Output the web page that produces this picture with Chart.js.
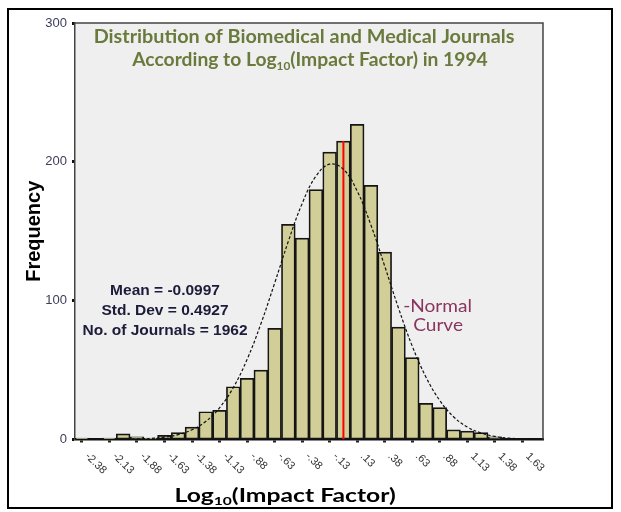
<!DOCTYPE html>
<html><head><meta charset="utf-8">
<script src="https://cdn.jsdelivr.net/npm/chart.js@4.4.1/dist/chart.umd.min.js"></script>
<style>html,body{margin:0;padding:0;background:#fff;}canvas{display:block;}</style>
</head><body>
<canvas id="c" width="621" height="512"></canvas>
<script>
// ---- data ----
const binCenters = [-2.375,-2.25,-2.125,-2,-1.875,-1.75,-1.625,-1.5,-1.375,-1.25,-1.125,-1,-0.875,-0.75,-0.625,-0.5,-0.375,-0.25,-0.125,0,0.125,0.25,0.375,0.5,0.625,0.75,0.875,1,1.125,1.25,1.375,1.5,1.625,1.75];
const frequencies = [1,0,1,4,2,1,3,5,9,20,21,38,44,50,80,155,145,180,207,215,227,183,135,81,59,26,23,7,6,5,2,0,0,0];
const curveX = [-2.375,-2.25,-2.125,-2,-1.875,-1.75,-1.625,-1.5,-1.375,-1.25,-1.125,-1,-0.875,-0.75,-0.625,-0.5,-0.375,-0.25,-0.125,0,0.125,0.25,0.375,0.5,0.625,0.75,0.875,1,1.125,1.25,1.375,1.5,1.625,1.75];
const curveY = [0,0,0,0.1,0.3,0.7,1.7,3.5,7,13,22.8,37.4,57.6,83.2,112.5,142.8,169.9,189.6,198.3,194.6,179,154.4,124.9,94.7,67.3,44.9,28.1,16.4,9,4.7,2.2,1,0.4,0.2];
const xTickValues = [-2.375,-2.125,-1.875,-1.625,-1.375,-1.125,-0.875,-0.625,-0.375,-0.125,0.125,0.375,0.625,0.875,1.125,1.375,1.625];
const xTickLabels = ["-2.38","-2.13","-1.88","-1.63","-1.38","-1.13","-.88","-.63","-.38","-.13",".13",".38",".63",".88","1.13","1.38","1.63"];
const yTickValues = [0,100,200,300];
const markerX = 0;
const statsLines = ["Mean = -0.0997","Std. Dev = 0.4927","No. of Journals = 1962"];
const statsY = [107.5,92.5,78];
const statsX = -1.62;
const titleLine1 = [["Distribution of Biomedical and Medical Journals",false]];
const titleLine2 = [["According to Log",false],["10",true],["(Impact Factor) in 1994",false]];
const xTitle = [["Log",false],["10",true],["(Impact Factor)",false]];
const yTitle = "Frequency";
const curveLabel = ["-Normal","Curve"];

const markerTop = frequencies[binCenters.indexOf(markerX)];

function richText(ctx, parts, cx, baseY, size, weight, family, sx){
  ctx.save();
  ctx.translate(cx, baseY); ctx.scale(sx||1, 1);
  let total = 0;
  const widths = parts.map(([t,sub])=>{
    ctx.font = `${weight} ${sub?Math.round(size*0.62):size}px ${family}`;
    const w = ctx.measureText(t).width; total += w; return w;
  });
  let xx = -total/2;
  ctx.textAlign = 'left';
  parts.forEach(([t,sub],i)=>{
    ctx.font = `${weight} ${sub?Math.round(size*0.62):size}px ${family}`;
    ctx.fillText(t, xx, sub ? size*0.2 : 0);
    xx += widths[i];
  });
  ctx.restore();
}

const decor = {
  id:'decor',
  beforeDraw(chart){
    const {ctx, chartArea:a} = chart;
    ctx.save();
    ctx.fillStyle = '#fff'; ctx.fillRect(0,0,chart.width,chart.height);
    ctx.fillStyle = '#efefef'; ctx.fillRect(a.left,a.top,a.right-a.left,a.bottom-a.top);
    ctx.restore();
  },
  afterDraw(chart){
    const {ctx, chartArea:a, scales} = chart;
    const x = scales.x, y = scales.y;
    ctx.save();
    ctx.strokeStyle = '#444'; ctx.lineWidth = 1.5;
    ctx.beginPath(); ctx.moveTo(a.left,a.top); ctx.lineTo(a.right,a.top); ctx.lineTo(a.right,a.bottom); ctx.stroke();
    ctx.strokeStyle = '#000'; ctx.lineWidth = 2;
    ctx.strokeRect(8,9,604,499);

    // x tick labels, rotated clockwise
    ctx.font = '11px "Liberation Sans", Arial';
    ctx.fillStyle = '#333'; ctx.textAlign = 'left'; ctx.textBaseline = 'middle';
    xTickValues.forEach((v,i)=>{
      const px = x.getPixelForValue(v);
      ctx.save(); ctx.translate(px+5, a.bottom+15); ctx.rotate(Math.PI/4);
      ctx.fillText(xTickLabels[i],0,0); ctx.restore();
    });

    // plot title
    ctx.textBaseline = 'alphabetic';
    ctx.fillStyle = '#697a3c';
    const cx = (a.left+a.right)/2;
    richText(ctx, titleLine1, cx-5, a.top+20, 18, 'bold', 'Lato', 1.1);
    richText(ctx, titleLine2, cx+1, a.top+43, 18, 'bold', 'Lato', 1.07);

    // x title
    ctx.fillStyle = '#000';
    richText(ctx, xTitle, x.getPixelForValue(-0.53), a.bottom+62, 19, 'bold', 'Lato', 1.3);

    // y title
    ctx.save();
    ctx.font = 'bold 20px "Liberation Sans", Arial';
    ctx.textAlign = 'center';
    ctx.translate(40, y.getPixelForValue(150)); ctx.rotate(-Math.PI/2);
    ctx.fillText(yTitle, 0, 0);
    ctx.restore();

    // stats annotation
    ctx.font = 'bold 15.5px "Liberation Sans", Arial';
    ctx.fillStyle = '#1c1c3a'; ctx.textAlign = 'center'; ctx.textBaseline = 'middle';
    statsLines.forEach((t,i)=> ctx.fillText(t, x.getPixelForValue(statsX), y.getPixelForValue(statsY[i])));

    // curve label
    ctx.fillStyle = '#8a3560';
    ctx.font = '18px Lato';
    [[0.855,96.2],[0.86,82.5]].forEach(([vx,vy],i)=>{
      ctx.save(); ctx.translate(x.getPixelForValue(vx), y.getPixelForValue(vy)); ctx.scale(1.06,1);
      ctx.fillText(curveLabel[i],0,0); ctx.restore();
    });
    ctx.restore();
  }
};

new Chart(document.getElementById('c'), {
  type:'bar',
  data:{
    datasets:[
      {
        type:'line', order:1,
        data: curveX.map((v,i)=>({x:v,y:curveY[i]})),
        borderColor:'#111', borderWidth:1.2, borderDash:[3,2],
        pointRadius:0, tension:0.4, fill:false
      },
      {
        type:'line', order:2,
        data:[{x:markerX,y:0},{x:markerX,y:markerTop}],
        borderColor:'#ff0000', borderWidth:2, pointRadius:0, fill:false
      },
      {
        type:'bar', order:3,
        data: binCenters.map((v,i)=>({x:v,y:frequencies[i]})),
        backgroundColor:'#d2ce98', borderColor:'#151515', borderWidth:1.7,
        borderSkipped:false, barPercentage:1, categoryPercentage:1
      }
    ]
  },
  options:{
    responsive:false, animation:false, devicePixelRatio:1,
    layout:{padding:{left:0,top:23,right:78,bottom:0}},
    plugins:{legend:{display:false}, tooltip:{enabled:false}, title:{display:false}},
    scales:{
      x:{
        type:'linear', min:-2.4375, max:1.8125, offset:false,
        afterBuildTicks:(s)=>{ s.ticks = xTickValues.map(v=>({value:v})); },
        afterFit:(s)=>{ s.height = 72.5; },
        ticks:{display:false},
        grid:{offset:false, drawOnChartArea:false, drawTicks:true, tickLength:3, tickWidth:3, tickColor:'#222'},
        border:{display:true, color:'#111', width:2.5}
      },
      y:{
        type:'linear', min:0, max:300,
        afterBuildTicks:(s)=>{ s.ticks = yTickValues.map(v=>({value:v})); },
        afterFit:(s)=>{ s.width = 75; },
        ticks:{font:{family:'"Liberation Sans", Arial', size:13}, color:'#3d3d5c', padding:5},
        grid:{drawOnChartArea:false, drawTicks:true, tickLength:3, tickWidth:3, tickColor:'#111'},
        border:{display:true, color:'#444', width:1.5}
      }
    }
  },
  plugins:[decor]
});
</script>
</body></html>
